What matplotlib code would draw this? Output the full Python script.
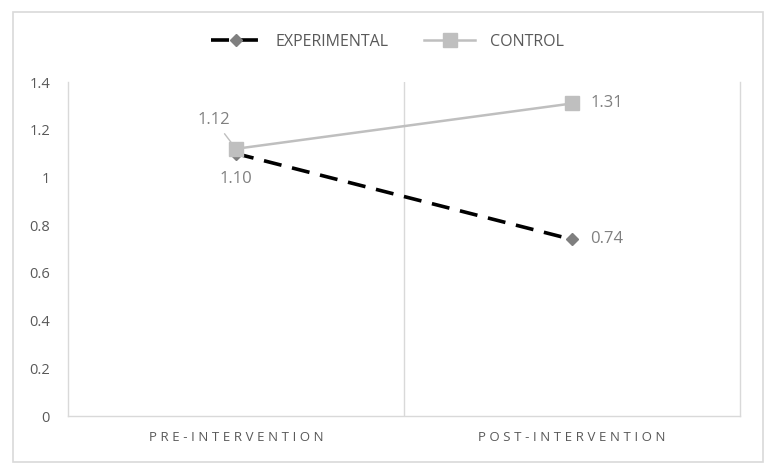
from matplotlib import pyplot as plt
from matplotlib.patches import Rectangle
from matplotlib.ticker import FixedLocator

plt.rcParams['font.family'] = ['Open Sans', 'DejaVu Sans']

categories = ['PRE-INTERVENTION', 'POST-INTERVENTION']
experimental = [1.10, 0.74]
control = [1.12, 1.31]
yticks = [0, 0.2, 0.4, 0.6, 0.8, 1, 1.2, 1.4]

fig = plt.figure(figsize=(7.74, 4.76), dpi=100)
ax = fig.add_axes([68/774, 1-416/476, 672/774, 334/476])

# outer chart border
fig.patches.append(Rectangle((13/774, 1-462/476), 750/774, 450/476,
                             transform=fig.transFigure, fill=False,
                             edgecolor='#d9d9d9', lw=1.2))

x = range(len(categories))
ax.plot(x, experimental, color='black', lw=2.6, dashes=(5, 3),
        marker='D', markersize=6.5, markerfacecolor='#7f7f7f',
        markeredgecolor='#7f7f7f', label='EXPERIMENTAL', zorder=3)
ax.plot(x, control, color='#bfbfbf', lw=1.8, marker='s', markersize=10,
        markerfacecolor='#bfbfbf', markeredgecolor='#bfbfbf',
        label='CONTROL', zorder=4)

lab_col = '#808080'
ax.annotate('%.2f' % control[0], (0, control[0]), xytext=(-16, 21),
            textcoords='offset points', ha='center', va='center',
            fontsize=12, color=lab_col,
            arrowprops=dict(arrowstyle='-', color='#bfbfbf', lw=1,
                            shrinkA=3, shrinkB=0))
ax.annotate('%.2f' % experimental[0], (0, experimental[0]), xytext=(0, -18),
            textcoords='offset points', ha='center', va='center',
            fontsize=12, color=lab_col)
ax.annotate('%.2f' % control[1], (1, control[1]), xytext=(13, 0),
            textcoords='offset points', ha='left', va='center',
            fontsize=12, color=lab_col)
ax.annotate('%.2f' % experimental[1], (1, experimental[1]), xytext=(13, 0),
            textcoords='offset points', ha='left', va='center',
            fontsize=12, color=lab_col)

ax.set_xlim(-0.5, 1.5)
ax.set_ylim(0, 1.4)
ax.set_yticks(yticks)
ax.set_yticklabels(['%g' % v for v in yticks])
ax.set_xticks(list(x))
ax.set_xticklabels(['\u2009\u200a'.join(c) for c in categories])
ax.xaxis.set_minor_locator(FixedLocator([0.5]))
ax.grid(which='minor', axis='x', color='#d9d9d9', lw=1)
ax.tick_params(axis='both', which='both', length=0)
ax.tick_params(axis='y', pad=13, labelsize=10.5, labelcolor='#595959')
ax.tick_params(axis='x', pad=11, labelsize=9.5, labelcolor='#595959')

ax.spines['top'].set_visible(False)
for s in ['left', 'right', 'bottom']:
    ax.spines[s].set_color('#d9d9d9')
    ax.spines[s].set_linewidth(1)

leg = fig.legend(loc='center', bbox_to_anchor=(0.5, 1-42/476), ncol=2,
                 frameon=False, fontsize=11.5, handlelength=3.2,
                 columnspacing=2.2, handletextpad=0.9)
for t in leg.get_texts():
    t.set_color('#595959')

fig.savefig('out.png', dpi=100)
